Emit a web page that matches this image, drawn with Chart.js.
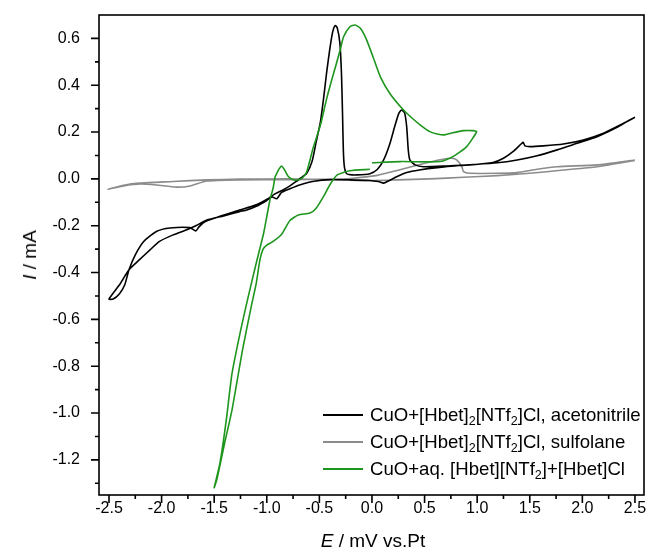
<!DOCTYPE html>
<html>
<head>
<meta charset="utf-8">
<script src="https://cdn.jsdelivr.net/npm/chart.js@4.4.1/dist/chart.umd.min.js"></script>
<style>
  body { margin: 0; background: #fff; }
  #wrap { position: relative; width: 647px; height: 559px; font-family: "Liberation Sans", Arial, sans-serif; color: #000; }
  canvas { position: absolute; left: 0; top: 0; }
  .ytitle { position: absolute; left: 30px; top: 255px; transform: translate(-50%, -50%) rotate(-90deg); font-size: 19px; white-space: nowrap; }
  .xtitle { position: absolute; left: 373px; top: 541px; transform: translate(-50%, -50%); font-size: 19px; white-space: nowrap; }
  #legend { position: absolute; left: 323px; top: 401px; font-size: 18.6px; }
  .row { height: 27px; display: flex; align-items: center; white-space: nowrap; }
  .swatch { width: 40px; height: 0; border-top: 2px solid; margin-right: 7px; }
  sub { font-size: 12.5px; vertical-align: -4px; line-height: 0; }
</style>
</head>
<body>
<div id="wrap">
  <canvas id="cv_chart" width="647" height="559"></canvas>
  <div class="ytitle"><i>I</i> / mA</div>
  <div class="xtitle"><i>E</i> / mV vs.Pt</div>
  <div id="legend"></div>
</div>
<script>
// tick labels
const xTicks = [-2.5, -2.0, -1.5, -1.0, -0.5, 0.0, 0.5, 1.0, 1.5, 2.0, 2.5];
const yTicks = [-1.2, -1.0, -0.8, -0.6, -0.4, -0.2, 0.0, 0.2, 0.4, 0.6];

// series names (legend, html for subscripts)
const seriesNames = [
  "CuO+[Hbet]<sub>2</sub>[NTf<sub>2</sub>]Cl, acetonitrile",
  "CuO+[Hbet]<sub>2</sub>[NTf<sub>2</sub>]Cl, sulfolane",
  "CuO+aq. [Hbet][NTf<sub>2</sub>]+[Hbet]Cl"
];
const seriesColors = ["#000000", "#8c8c8c", "#1e961e"];

// acetonitrile loop (E in V, I in mA)
const acnE = [2.50, 2.45, 2.33, 2.14, 1.95, 1.76, 1.57, 1.38, 1.19, 0.87, 0.62, 0.45, 0.33, 0.24, 0.16, 0.11, 0.07, 0.04, -0.02, -0.21,
  -0.40, -0.55, -0.68, -0.78, -0.86, -0.905, -0.95, -1.00, -1.10, -1.19, -1.26, -1.41, -1.57, -1.67, -1.76, -1.89, -2.02, -2.11, -2.21, -2.31,
  -2.40, -2.50, -2.46, -2.40, -2.35, -2.31, -2.25, -2.17, -2.05, -1.92, -1.73, -1.675, -1.645, -1.60, -1.50, -1.25, -1.10, -0.98, -0.93, -0.85,
  -0.78, -0.72, -0.68, -0.62, -0.57, -0.53, -0.49, -0.46, -0.43, -0.40, -0.375, -0.35, -0.33, -0.305, -0.29, -0.28, -0.272, -0.262, -0.245, -0.22,
  -0.145, -0.02, 0.05, 0.11, 0.17, 0.22, 0.255, 0.28, 0.31, 0.33, 0.345, 0.36, 0.41, 0.49, 0.71, 0.93, 1.15, 1.25, 1.34, 1.42,
  1.438, 1.455, 1.50, 1.63, 1.82, 2.01, 2.20, 2.36, 2.50];
const acnI = [0.263, 0.252, 0.220, 0.180, 0.152, 0.124, 0.099, 0.081, 0.069, 0.058, 0.048, 0.038, 0.027, 0.010, -0.008, -0.018, -0.012, -0.010, -0.007, -0.004,
  -0.003, -0.010, -0.025, -0.042, -0.058, -0.085, -0.077, -0.092, -0.117, -0.133, -0.140, -0.158, -0.176, -0.199, -0.217, -0.239, -0.267, -0.303, -0.345, -0.388,
  -0.452, -0.513, -0.513, -0.490, -0.452, -0.388, -0.324, -0.267, -0.225, -0.210, -0.208, -0.222, -0.205, -0.186, -0.168, -0.132, -0.110, -0.082, -0.066, -0.048,
  -0.030, -0.011, 0.003, 0.024, 0.074, 0.159, 0.244, 0.344, 0.458, 0.557, 0.625, 0.655, 0.645, 0.580, 0.450, 0.280, 0.120, 0.050, 0.025, 0.019,
  0.017, 0.022, 0.040, 0.080, 0.150, 0.230, 0.280, 0.294, 0.282, 0.223, 0.124, 0.081, 0.060, 0.052, 0.055, 0.060, 0.070, 0.088, 0.116, 0.150,
  0.156, 0.141, 0.138, 0.141, 0.149, 0.166, 0.195, 0.230, 0.263];

// sulfolane loop
const sulE = [2.50, 2.14, 1.76, 1.57, 1.38, 1.19, 0.93, 0.87, 0.855, 0.805, 0.76, 0.65, 0.55, 0.40, 0.24, 0.05, -0.20, -0.40, -0.80, -1.26,
  -1.57, -1.73, -1.86, -2.05, -2.20, -2.36, -2.51, -2.36, -2.21, -1.89, -1.57, -1.26, -0.80, -0.40, -0.08, 0.24, 0.55, 0.87, 1.19, 1.50,
  1.82, 2.14, 2.50];
const sulI = [0.081, 0.060, 0.052, 0.041, 0.027, 0.024, 0.024, 0.031, 0.052, 0.081, 0.088, 0.082, 0.072, 0.055, 0.036, 0.015, 0.002, -0.002, -0.003, -0.004,
  -0.009, -0.030, -0.035, -0.026, -0.022, -0.030, -0.044, -0.027, -0.018, -0.011, -0.004, -0.001, 0.000, -0.003, -0.007, -0.004, 0.000, 0.007, 0.014, 0.024,
  0.038, 0.052, 0.079];

// aqueous loop
const aqE = [0.00, 0.27, 0.65, 0.77, 0.90, 0.995, 0.96, 0.87, 0.75, 0.69, 0.62, 0.55, 0.46, 0.38, 0.30, 0.17, 0.08, 0.01, -0.05, -0.11,
  -0.16, -0.21, -0.27, -0.30, -0.34, -0.37, -0.43, -0.49, -0.56, -0.62, -0.66, -0.70, -0.75, -0.795, -0.83, -0.86, -0.88, -0.905, -0.92, -0.94,
  -0.97, -1.00, -1.03, -1.10, -1.18, -1.25, -1.33, -1.385, -1.445, -1.50, -1.475, -1.40, -1.33, -1.23, -1.15, -1.10, -1.065, -1.035, -1.00, -0.95,
  -0.86, -0.78, -0.70, -0.59, -0.53, -0.46, -0.40, -0.33, -0.21, -0.02];
const aqI = [0.069, 0.074, 0.074, 0.095, 0.138, 0.202, 0.206, 0.206, 0.195, 0.188, 0.192, 0.202, 0.230, 0.260, 0.294, 0.365, 0.436, 0.521, 0.593, 0.643,
  0.657, 0.650, 0.607, 0.555, 0.490, 0.443, 0.344, 0.230, 0.131, 0.031, 0.005, -0.004, -0.004, 0.010, 0.038, 0.055, 0.045, 0.024, 0.010, -0.040,
  -0.090, -0.161, -0.232, -0.359, -0.510, -0.650, -0.830, -1.030, -1.213, -1.319, -1.284, -1.127, -0.985, -0.729, -0.550, -0.445, -0.345, -0.300, -0.283, -0.270,
  -0.237, -0.178, -0.154, -0.146, -0.125, -0.075, -0.025, 0.017, 0.035, 0.041];

function toPoints(xs, ys) {
  return xs.map((v, i) => ({ x: v, y: ys[i] }));
}

const series = [
  { e: acnE, i: acnI },
  { e: sulE, i: sulI },
  { e: aqE, i: aqI }
];

const datasets = series.map((s, k) => ({
  label: seriesNames[k].replace(/<[^>]+>/g, ''),
  data: toPoints(s.e, s.i),
  borderColor: seriesColors[k],
  borderWidth: 1.6,
  pointRadius: 0,
  showLine: true,
  tension: 0.2,
  order: k === 2 ? 0 : k + 1
}));

// frame and minor ticks
const frame = {
  id: 'frame',
  afterDraw(chart) {
    const { ctx, chartArea: a, scales } = chart;
    const x = scales.x, y = scales.y;
    ctx.save();
    ctx.strokeStyle = '#000';
    ctx.lineWidth = 1.6;
    ctx.strokeRect(a.left, a.top, a.right - a.left, a.bottom - a.top);
    ctx.beginPath();
    xTicks.forEach((v, k) => {
      let p = x.getPixelForValue(v);
      ctx.moveTo(p, a.bottom); ctx.lineTo(p, a.bottom + 8);
      if (k < xTicks.length - 1) {
        p = x.getPixelForValue((v + xTicks[k + 1]) / 2);
        ctx.moveTo(p, a.bottom); ctx.lineTo(p, a.bottom + 4);
      }
    });
    yTicks.forEach((v, k) => {
      let p = y.getPixelForValue(v);
      ctx.moveTo(a.left, p); ctx.lineTo(a.left - 8, p);
      p = y.getPixelForValue(v - 0.1);
      ctx.moveTo(a.left, p); ctx.lineTo(a.left - 4, p);
    });
    let p = y.getPixelForValue(yTicks[yTicks.length - 1] + 0.1);
    if (p > a.top) { ctx.moveTo(a.left, p); ctx.lineTo(a.left - 4, p); }
    ctx.stroke();
    ctx.restore();
  }
};

const tickFont = { family: '"Liberation Sans", Arial, sans-serif', size: 16 };

new Chart(document.getElementById('cv_chart'), {
  type: 'scatter',
  data: { datasets: datasets },
  options: {
    responsive: false,
    animation: false,
    layout: { padding: { top: 15, right: 3, left: 0, bottom: 0 } },
    plugins: { legend: { display: false }, tooltip: { enabled: false } },
    scales: {
      x: {
        type: 'linear',
        min: -2.595,
        max: 2.586,
        afterBuildTicks: (scale) => { scale.ticks = xTicks.map(v => ({ value: v })); },
        afterFit: (scale) => { scale.height = 64; scale.paddingLeft = 0; scale.paddingRight = 0; },
        grid: { display: true, drawOnChartArea: false, drawTicks: false },
        border: { display: false },
        ticks: { color: '#000', font: tickFont, padding: 4, maxRotation: 0, callback: v => v.toFixed(1) }
      },
      y: {
        type: 'linear',
        min: -1.35,
        max: 0.7,
        afterBuildTicks: (scale) => { scale.ticks = yTicks.map(v => ({ value: v })); },
        afterFit: (scale) => { scale.width = 99; scale.paddingTop = 0; scale.paddingBottom = 0; },
        grid: { display: true, drawOnChartArea: false, drawTicks: false },
        border: { display: false },
        ticks: { color: '#000', font: tickFont, padding: 19, callback: v => v.toFixed(1) }
      }
    }
  },
  plugins: [frame]
});

// legend
const legend = document.getElementById('legend');
seriesNames.forEach((name, k) => {
  const row = document.createElement('div');
  row.className = 'row';
  row.innerHTML = '<span class="swatch" style="border-color:' + seriesColors[k] + '"></span><span>' + name + '</span>';
  legend.appendChild(row);
});
</script>
</body>
</html>
